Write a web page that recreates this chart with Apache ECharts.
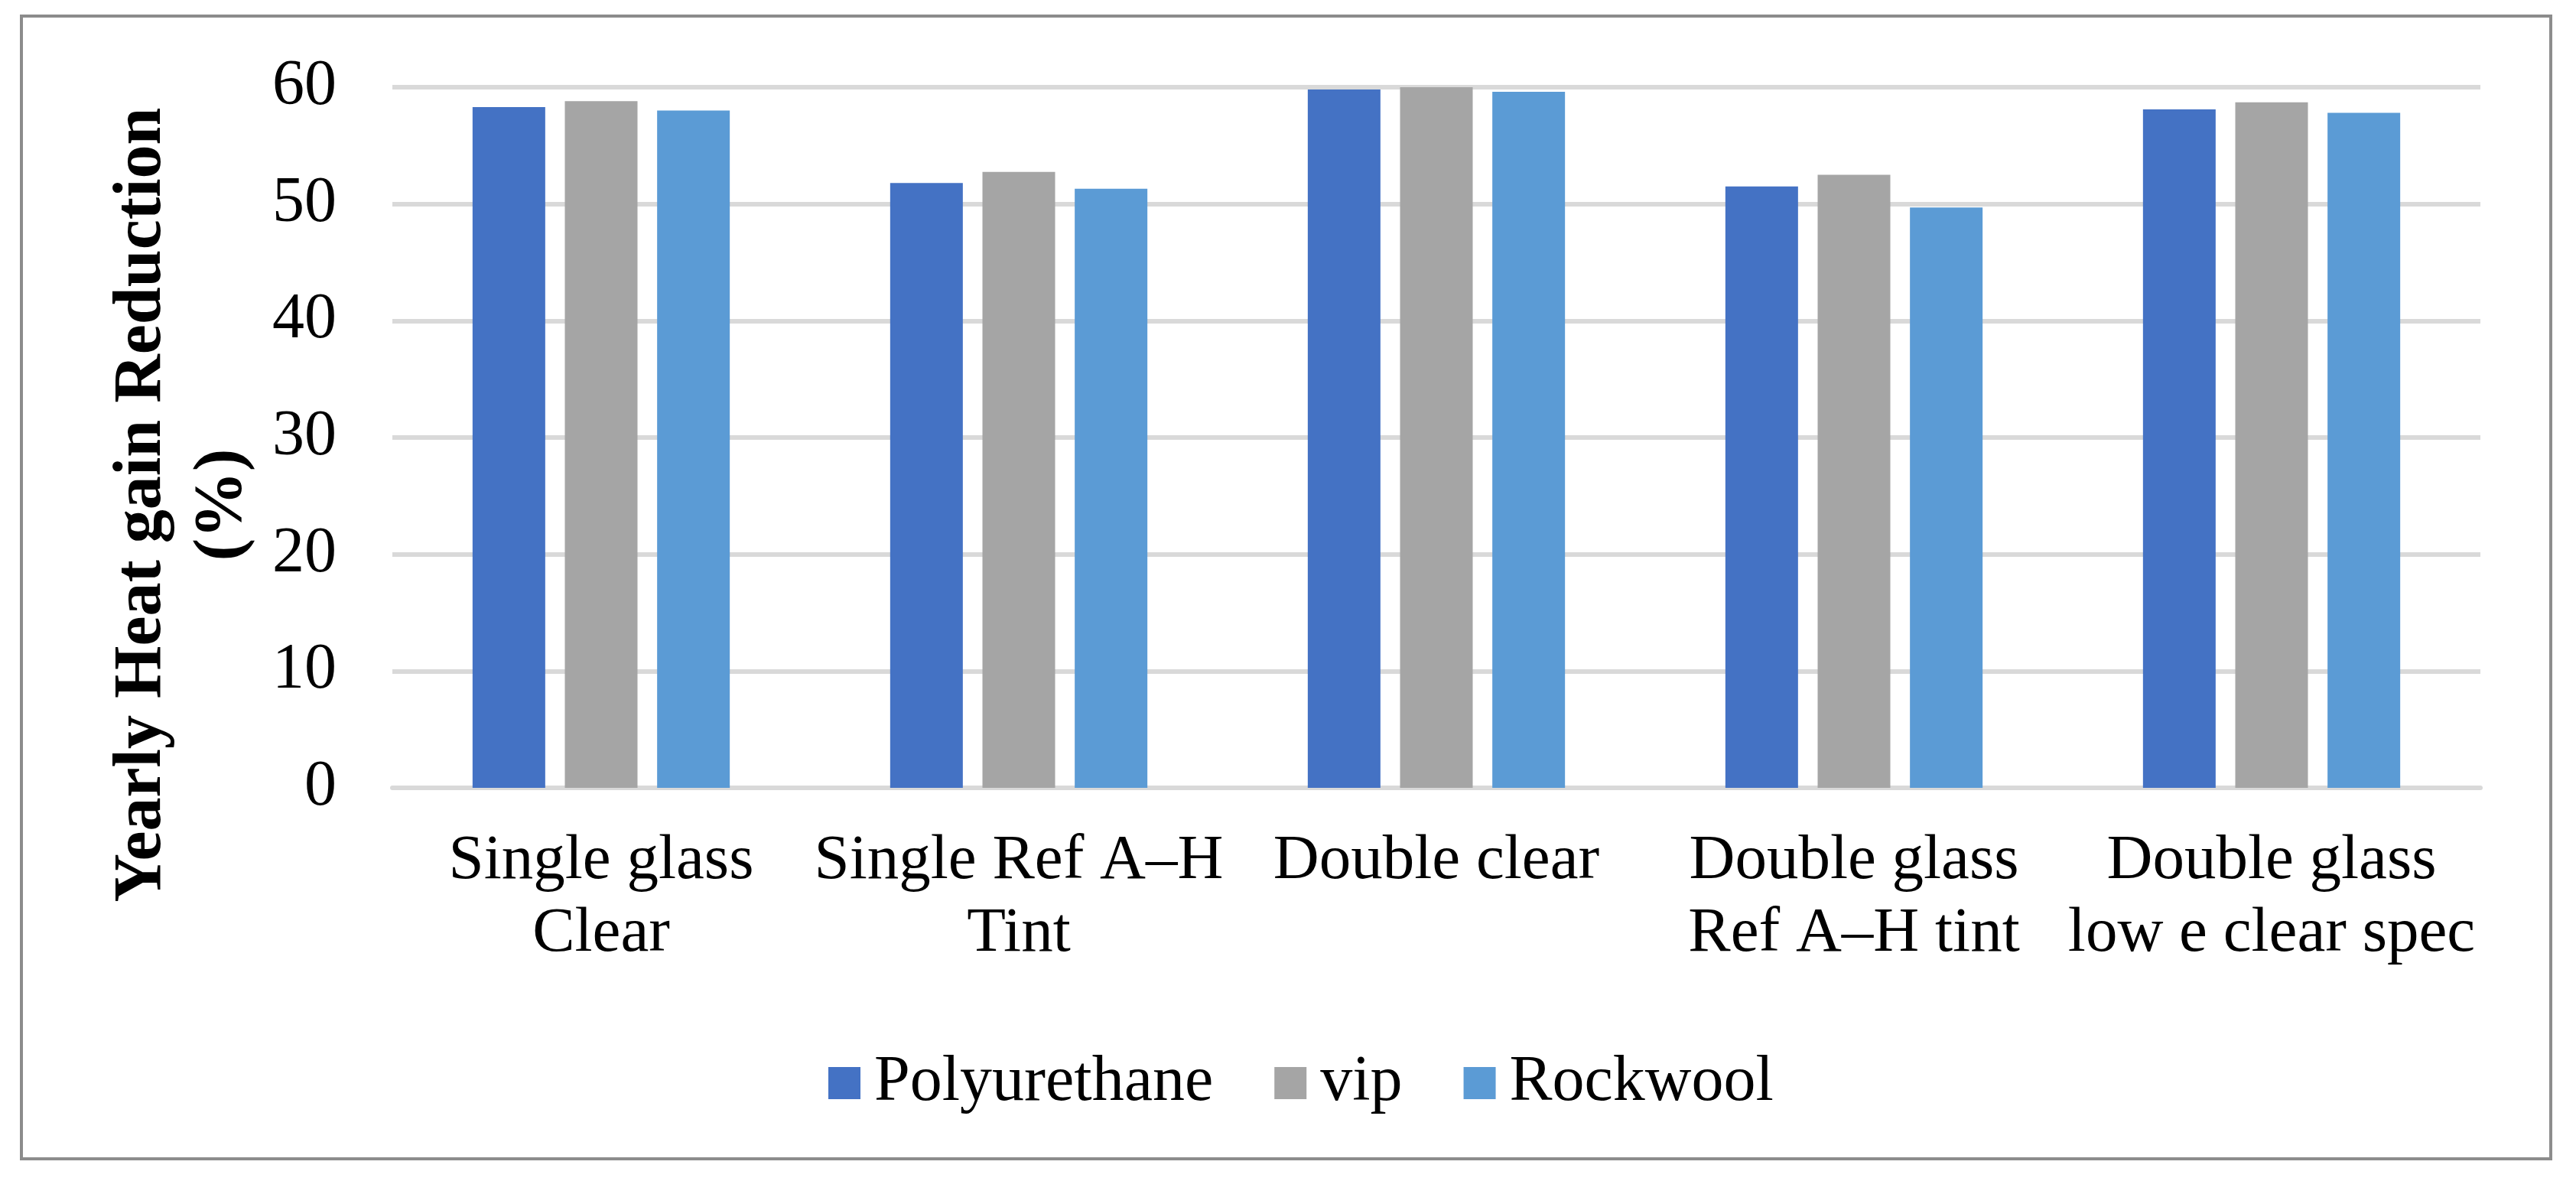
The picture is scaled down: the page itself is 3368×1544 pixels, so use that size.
<!DOCTYPE html>
<html>
<head>
<meta charset="utf-8">
<script src="https://cdn.jsdelivr.net/npm/echarts@6/dist/echarts.min.js"></script>
<style>
html,body{margin:0;padding:0;background:#fff;}
#chart{width:3368px;height:1544px;}
</style>
</head>
<body>
<div id="chart"></div>
<script>
var categories = ["Single glass\nClear", "Single Ref A\u2013H\nTint", "Double clear", "Double glass\nRef A\u2013H tint", "Double glass\nlow e clear spec"];
var polyurethane = [58.3, 51.8, 59.8, 51.5, 58.1];
var vip = [58.8, 52.75, 60.0, 52.5, 58.7];
var rockwool = [58.0, 51.3, 59.6, 49.7, 57.8];
var yTitleLine1 = "Yearly Heat gain Reduction";
var yTitleLine2 = "(%)";

var FONT = "'Liberation Serif', 'Times New Roman', serif";
var chart = echarts.init(document.getElementById('chart'), null, {renderer: 'canvas'});
chart.setOption({
  backgroundColor: '#ffffff',
  animation: false,
  grid: {left: 513, right: 125, top: 114, bottom: 514, containLabel: false},
  legend: {
    left: 1083, top: 1374, padding: 0,
    itemWidth: 42, itemHeight: 42, itemGap: 80,
    icon: 'rect',
    textStyle: {fontFamily: FONT, fontSize: 84, color: '#000', lineHeight: 42, padding: [0, 0, 0, 13]},
    data: ['Polyurethane', 'vip', 'Rockwool']
  },
  xAxis: {
    type: 'category',
    data: categories,
    axisLine: {show: true, lineStyle: {color: '#d9d9d9', width: 6}},
    axisTick: {show: false},
    axisLabel: {interval: 0, margin: 49, fontFamily: FONT, fontSize: 83, color: '#000', lineHeight: 95, align: 'center'}
  },
  yAxis: {
    type: 'value', min: 0, max: 60, interval: 10,
    axisLine: {show: false},
    axisTick: {show: false},
    splitLine: {show: true, lineStyle: {color: '#d9d9d9', width: 6}},
    axisLabel: {margin: 73, fontFamily: FONT, fontSize: 84, color: '#000'}
  },
  series: [
    {name: 'Polyurethane', type: 'bar', data: polyurethane, barWidth: 95, barGap: '27%', itemStyle: {color: '#4472C4'}},
    {name: 'vip', type: 'bar', data: vip, barWidth: 95, barGap: '27%', itemStyle: {color: '#A5A5A5'}},
    {name: 'Rockwool', type: 'bar', data: rockwool, barWidth: 95, barGap: '27%', itemStyle: {color: '#5B9BD5'}}
  ],
  graphic: [
    {type: 'rect', shape: {x: 28, y: 21, width: 3307, height: 1494}, style: {fill: 'none', stroke: '#8c8c8c', lineWidth: 4}, silent: true, z: 100},
    {type: 'text', x: 186, y: 660, rotation: Math.PI / 2,
      style: {text: yTitleLine1, fontFamily: FONT, fontSize: 88, fontWeight: 'bold', fill: '#000', align: 'center', verticalAlign: 'middle'}},
    {type: 'text', x: 291, y: 660, rotation: Math.PI / 2,
      style: {text: yTitleLine2, fontFamily: FONT, fontSize: 88, fontWeight: 'bold', fill: '#000', align: 'center', verticalAlign: 'middle'}}
  ]
});
</script>
</body>
</html>
